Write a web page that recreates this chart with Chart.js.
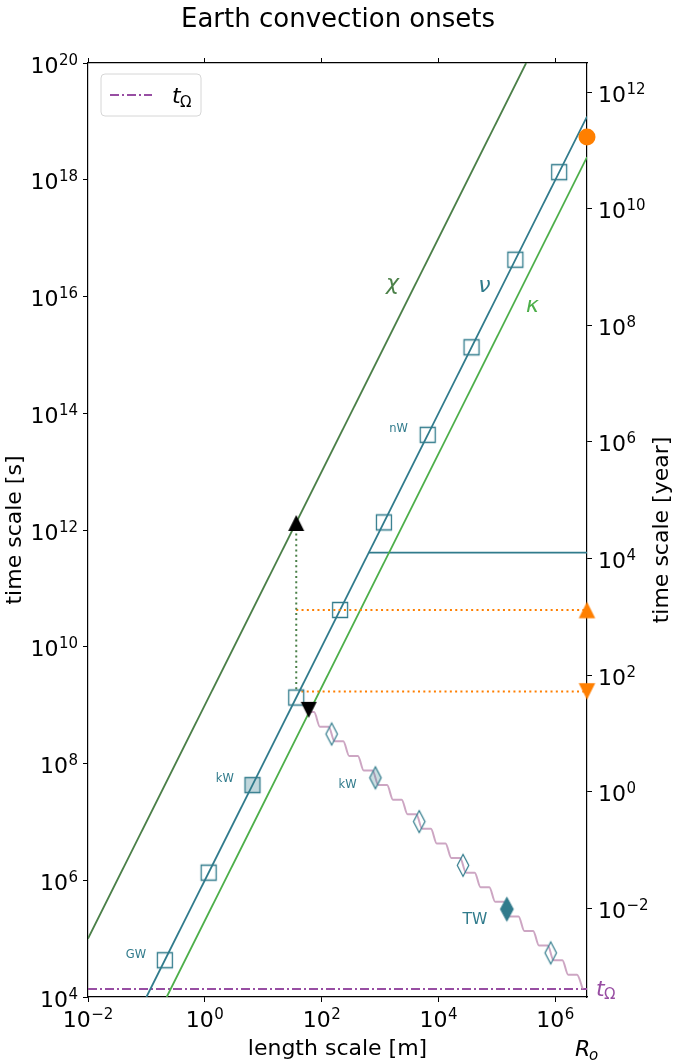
<!DOCTYPE html>
<html>
<head>
<meta charset="utf-8">
<script src="https://cdn.jsdelivr.net/npm/chart.js@4.4.0/dist/chart.umd.min.js"></script>
<style>
  html, body { margin: 0; padding: 0; background: #fff; }
</style>
</head>
<body>
<canvas id="myChart" width="676" height="1064"></canvas>
<script>
// values
const R_o = 3.48e6;          // core radius [m]
const tOmega = 1.37e4;       // rotation time [s]
const yearSec = 3.156e7;

const xRange = [1e-2, R_o];
const yRange = [1e4, 1e20];
const xTicks = [1e-2, 1e0, 1e2, 1e4, 1e6];
const yTicks = [1e4, 1e6, 1e8, 1e10, 1e12, 1e14, 1e16, 1e18, 1e20];
const yearTicks = [1e-2, 1e0, 1e2, 1e4, 1e6, 1e8, 1e10, 1e12];

// diffusion lines t = L^2 / D
const chiL = [1e-2, 3.16e5];
const chiT = [1e5, 1e20];
const nuL = [0.1, R_o];
const nuT = [1e4, 1.21e19];
const kappaL = [0.222, R_o];
const kappaT = [1e4, 2.45e18];

// squares along the nu line
const squareL = [0.2065, 1.161, 6.53, 36.7, 206.5, 1161, 6531, 3.673e4, 2.065e5, 1.161e6];
const squareT = [4.27e4, 1.35e6, 4.27e7, 1.35e9, 4.27e10, 1.35e12, 4.27e13, 1.35e15, 4.27e16, 1.35e18];

// diamonds on the staircase
const diamondL = [148, 832, 4677, 2.63e4, 1.479e5, 8.32e5];
const diamondT = [3.2e8, 5.69e7, 1.012e7, 1.8e6, 3.2e5, 5.69e4];

// staircase (wavy pink line)
const stairL = [60, 74.1, 93.3, 131.8, 166, 234.4, 295.1, 416.9, 524.8, 741.3, 933.3,
  1318, 1660, 2344, 2951, 4169, 5248, 7413, 9333, 1.318e4, 1.66e4, 2.344e4, 2.951e4,
  4.169e4, 5.248e4, 7.413e4, 9.333e4, 1.318e5, 1.66e5, 2.344e5, 2.951e5, 4.169e5,
  5.248e5, 7.413e5, 9.333e5, 1.318e6, 1.66e6, 2.344e6, 2.951e6];
const stairT = [7.59e8, 7.59e8, 4.27e8, 4.27e8, 2.40e8, 2.40e8, 1.35e8, 1.35e8, 7.59e7,
  7.59e7, 4.27e7, 4.27e7, 2.40e7, 2.40e7, 1.35e7, 1.35e7, 7.59e6, 7.59e6, 4.27e6,
  4.27e6, 2.40e6, 2.40e6, 1.35e6, 1.35e6, 7.59e5, 7.59e5, 4.27e5, 4.27e5, 2.40e5,
  2.40e5, 1.35e5, 1.35e5, 7.59e4, 7.59e4, 4.27e4, 4.27e4, 2.40e4, 2.40e4, 1.37e4];

// onset markers
const blackUpL = [36.7];
const blackUpT = [1.32e12];
const blackDownL = [60];
const blackDownT = [8.3e8];
const greenDotL = [36.7, 36.7];
const greenDotT = [1.32e12, 1.72e9];
const orangeHiL = [36.7, R_o];
const orangeHiT = [4.27e10, 4.27e10];
const orangeLoL = [45, R_o];
const orangeLoT = [1.72e9, 1.72e9];
const orangeCircleT = [5.4e18];
const orangeUpT = [4.27e10];
const orangeDownT = [1.72e9];
const tealFlatL = [640, R_o];
const tealFlatT = [4.1e11, 4.1e11];
const omegaL = [1e-2, R_o];
const omegaT = [tOmega, tOmega];

const labelsText = [
  { text: 'χ', L: 1637, t: 1.29e16, c: 'chi', size: 22, italic: true },
  { text: 'ν', L: 6.1e4, t: 1.19e16, c: 'nu', size: 22, italic: true },
  { text: 'κ', L: 4.05e5, t: 5.42e15, c: 'kappa', size: 22, italic: true },
  { text: 'GW', L: 0.066, t: 4.66e4, c: 'nu', size: 11.5 },
  { text: 'kW', L: 2.2, t: 4.82e7, c: 'nu', size: 11.5 },
  { text: 'kW', L: 278, t: 3.8e7, c: 'nu', size: 11.5 },
  { text: 'nW', L: 2070, t: 4.78e13, c: 'nu', size: 11.5 },
  { text: 'TW', L: 4.2e4, t: 1.78e5, c: 'nu', size: 15.5 }
];

const colors = {
  chi: '#4b8048',
  nu: '#317b8c',
  kappa: '#4daf4a',
  orange: '#ff7f00',
  purple: '#984ea3',
  pink: 'rgba(196,150,184,0.85)'
};

const FONT = '"DejaVu Sans", sans-serif';

function marker(shape, w, h, stroke, fill, lw) {
  const c = document.createElement('canvas');
  c.width = Math.ceil(w + lw * 2 + 2);
  c.height = Math.ceil(h + lw * 2 + 2);
  const g = c.getContext('2d');
  const cx = c.width / 2, cy = c.height / 2;
  g.beginPath();
  if (shape === 'diamond') {
    g.moveTo(cx, cy - h / 2); g.lineTo(cx + w / 2, cy); g.lineTo(cx, cy + h / 2); g.lineTo(cx - w / 2, cy);
  } else if (shape === 'square') {
    g.rect(cx - w / 2, cy - h / 2, w, h);
  } else if (shape === 'up') {
    g.moveTo(cx, cy - h / 2); g.lineTo(cx + w / 2, cy + h / 2); g.lineTo(cx - w / 2, cy + h / 2);
  } else if (shape === 'down') {
    g.moveTo(cx, cy + h / 2); g.lineTo(cx + w / 2, cy - h / 2); g.lineTo(cx - w / 2, cy - h / 2);
  }
  g.closePath();
  if (fill) { g.fillStyle = fill; g.fill(); }
  if (stroke) { g.strokeStyle = stroke; g.lineWidth = lw; g.lineJoin = 'miter'; g.stroke(); }
  return c;
}

const pts = (xs, ys) => xs.map((x, i) => ({ x: x, y: ys[i] }));

const sqOpen = marker('square', 15, 15, colors.nu, null, 1.3);
const sqFill = marker('square', 15, 15, colors.nu, 'rgba(49,123,140,0.3)', 1.3);
const dmOpen = marker('diamond', 11.5, 22, colors.nu, null, 1.2);
const dmLight = marker('diamond', 11.5, 22, colors.nu, 'rgba(49,123,140,0.25)', 1.2);
const dmDark = marker('diamond', 12.5, 23, colors.nu, colors.nu, 1.2);
const upBlack = marker('up', 16, 16, null, '#000', 0);
const downBlack = marker('down', 16, 16, null, '#000', 0);
const upOrange = marker('up', 16.5, 16.5, null, colors.orange, 0);
const downOrange = marker('down', 16.5, 16.5, null, colors.orange, 0);

const lineSet = (xs, ys, color, extra) => Object.assign({
  data: pts(xs, ys), showLine: true, borderColor: color, borderWidth: 2,
  pointRadius: 0, fill: false, order: 5
}, extra || {});

const markerSet = (xs, ys, style, extra) => Object.assign({
  data: pts(xs, ys), showLine: false, pointStyle: style, pointRadius: 8,
  order: 1, clip: false
}, extra || {});

const squarePointStyles = squareL.map((v, i) => i === 2 ? sqFill : sqOpen);
const diamondPointStyles = diamondL.map((v, i) => i === 1 ? dmLight : (i === 4 ? dmDark : dmOpen));

const datasets = [
  lineSet(omegaL, omegaT, colors.purple, { borderDash: [9, 3, 2, 3], order: 6 }),
  lineSet(chiL, chiT, colors.chi, { borderWidth: 1.8 }),
  lineSet(nuL, nuT, colors.nu, { borderWidth: 1.8 }),
  lineSet(kappaL, kappaT, colors.kappa, { borderWidth: 1.8 }),
  lineSet(tealFlatL, tealFlatT, colors.nu, { borderWidth: 1.8 }),
  lineSet(stairL, stairT, colors.pink, { cubicInterpolationMode: 'monotone', order: 4 }),
  lineSet(greenDotL, greenDotT, colors.chi, { borderDash: [2, 3.3], order: 3 }),
  lineSet(orangeHiL, orangeHiT, colors.orange, { borderDash: [2, 3.3], order: 3 }),
  lineSet(orangeLoL, orangeLoT, colors.orange, { borderDash: [2, 3.3], order: 3 }),
  markerSet(squareL, squareT, squarePointStyles),
  markerSet(diamondL, diamondT, diamondPointStyles),
  markerSet(blackUpL, blackUpT, upBlack, { order: 0 }),
  markerSet(blackDownL, blackDownT, downBlack, { order: 0 }),
  markerSet([R_o], orangeCircleT, 'circle', { pointRadius: 8.5, backgroundColor: colors.orange, borderWidth: 0, order: 0 }),
  markerSet([R_o], orangeUpT, upOrange, { order: 0 }),
  markerSet([R_o], orangeDownT, downOrange, { order: 0 })
];

function setTicks(list) {
  return function (scale) { scale.ticks = list.map(v => ({ value: v })); };
}

function axisOpts(position, range, list) {
  return {
    type: 'logarithmic', position: position, min: range[0], max: range[1],
    afterBuildTicks: setTicks(list),
    ticks: { display: false },
    grid: { display: true, drawOnChartArea: false, drawTicks: true, tickLength: 5, tickColor: '#000', tickWidth: 1 },
    border: { display: true, color: '#000', width: 1.2 }
  };
}

function drawPow(ctx, e, x, y, align) {
  const base = '10';
  const ex = (e < 0 ? '\u2212' : '') + Math.abs(e);
  ctx.font = '22px ' + FONT;
  const wb = ctx.measureText(base).width;
  ctx.font = '15px ' + FONT;
  const we = ctx.measureText(ex).width;
  const w = wb + we + 0.5;
  const x0 = align === 'right' ? x - w : (align === 'center' ? x - w / 2 : x);
  ctx.textAlign = 'left';
  ctx.textBaseline = 'alphabetic';
  ctx.font = '22px ' + FONT;
  ctx.fillText(base, x0, y);
  ctx.font = '15px ' + FONT;
  ctx.fillText(ex, x0 + wb + 0.5, y - 8);
}

const textLayer = {
  id: 'textLayer',
  afterDraw(chart) {
    const ctx = chart.ctx;
    const a = chart.chartArea;
    const sx = chart.scales.x, sy = chart.scales.y, sy2 = chart.scales.yYear;
    ctx.save();
    ctx.fillStyle = '#000';

    // title
    ctx.font = '26px ' + FONT;
    ctx.textAlign = 'center';
    ctx.textBaseline = 'alphabetic';
    ctx.fillText('Earth convection onsets', 338, 27);

    // tick labels
    xTicks.forEach(v => drawPow(ctx, Math.round(Math.log10(v)), sx.getPixelForValue(v), a.bottom + 30, 'center'));
    yTicks.forEach(v => drawPow(ctx, Math.round(Math.log10(v)), a.left - 10, sy.getPixelForValue(v) + 9.5, 'right'));
    yearTicks.forEach(v => drawPow(ctx, Math.round(Math.log10(v)), a.right + 11, sy2.getPixelForValue(v) + 9.5, 'left'));

    // axis titles
    ctx.font = '22px ' + FONT;
    ctx.textAlign = 'center';
    ctx.fillText('length scale [m]', (a.left + a.right) / 2, 1055);
    ctx.save();
    ctx.translate(21, (a.top + a.bottom) / 2);
    ctx.rotate(-Math.PI / 2);
    ctx.fillText('time scale [s]', 0, 0);
    ctx.restore();
    ctx.save();
    ctx.translate(668, (a.top + a.bottom) / 2);
    ctx.rotate(-Math.PI / 2);
    ctx.fillText('time scale [year]', 0, 0);
    ctx.restore();

    // R_o under the axis end
    const xr = sx.getPixelForValue(R_o);
    ctx.textAlign = 'left';
    ctx.font = 'italic 22px ' + FONT;
    ctx.fillText('R', xr - 12, 1056);
    ctx.font = 'italic 15px ' + FONT;
    ctx.fillText('o', xr + 2, 1060);

    // t_Omega at the right end of its line
    const yo = sy.getPixelForValue(tOmega);
    ctx.fillStyle = colors.purple;
    ctx.font = 'italic 22px ' + FONT;
    ctx.fillText('t', a.right + 9, yo + 7);
    ctx.font = '15px ' + FONT;
    ctx.fillText('Ω', a.right + 17, yo + 10);

    // annotation labels
    labelsText.forEach(lb => {
      ctx.fillStyle = colors[lb.c];
      ctx.font = (lb.italic ? 'italic ' : '') + lb.size + 'px ' + FONT;
      ctx.textAlign = 'center';
      ctx.fillText(lb.text, sx.getPixelForValue(lb.L), sy.getPixelForValue(lb.t));
    });

    // legend
    const lx = a.left + 13, ly = a.top + 11, lw = 100, lh = 42, r = 4;
    ctx.beginPath();
    ctx.moveTo(lx + r, ly);
    ctx.arcTo(lx + lw, ly, lx + lw, ly + lh, r);
    ctx.arcTo(lx + lw, ly + lh, lx, ly + lh, r);
    ctx.arcTo(lx, ly + lh, lx, ly, r);
    ctx.arcTo(lx, ly, lx + lw, ly, r);
    ctx.closePath();
    ctx.fillStyle = 'rgba(255,255,255,0.8)';
    ctx.fill();
    ctx.strokeStyle = '#d6d6d6';
    ctx.lineWidth = 1;
    ctx.stroke();
    ctx.beginPath();
    ctx.setLineDash([9, 3, 2, 3]);
    ctx.strokeStyle = colors.purple;
    ctx.lineWidth = 2;
    ctx.moveTo(lx + 9, ly + 21);
    ctx.lineTo(lx + 51, ly + 21);
    ctx.stroke();
    ctx.setLineDash([]);
    ctx.fillStyle = '#000';
    ctx.textAlign = 'left';
    ctx.font = 'italic 22px ' + FONT;
    ctx.fillText('t', lx + 71, ly + 29);
    ctx.font = '15px ' + FONT;
    ctx.fillText('Ω', lx + 79, ly + 33);
    ctx.restore();
  }
};

new Chart(document.getElementById('myChart').getContext('2d'), {
  type: 'scatter',
  data: { datasets: datasets },
  options: {
    responsive: false,
    animation: false,
    devicePixelRatio: 1,
    layout: { padding: { left: 83, right: 84, top: 58, bottom: 62 } },
    plugins: { legend: { display: false }, tooltip: { enabled: false } },
    scales: {
      x: axisOpts('bottom', xRange, xTicks),
      xTop: axisOpts('top', xRange, xTicks),
      y: axisOpts('left', yRange, yTicks),
      yYear: axisOpts('right', [yRange[0] / yearSec, yRange[1] / yearSec], yearTicks)
    }
  },
  plugins: [textLayer]
});
</script>
</body>
</html>
